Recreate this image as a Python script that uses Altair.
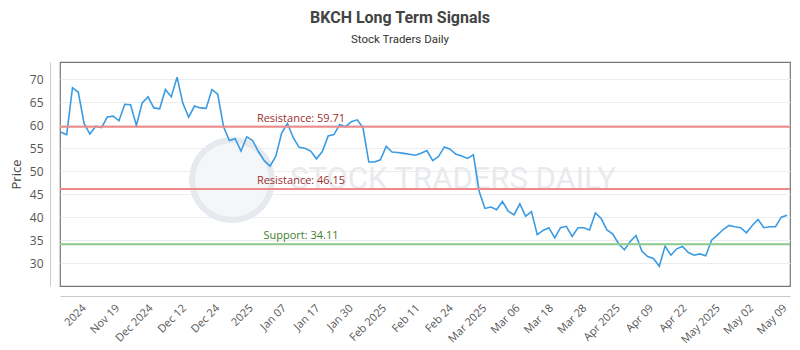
import json
import pandas as pd
import altair as alt

# Daily closing prices (trading days, oldest first)
prices = [
    58.5, 58.0, 68.2, 67.2, 60.4, 58.1, 59.8, 59.5, 61.8, 62.0,
    61.0, 64.6, 64.5, 60.0, 64.9, 66.2, 63.8, 63.6, 67.8, 66.2,
    70.5, 64.8, 61.8, 64.2, 63.8, 63.7, 67.8, 66.8, 59.7, 56.7,
    57.1, 54.4, 57.5, 56.7, 54.3, 52.3, 51.1, 53.3, 58.3, 60.4,
    57.3, 55.2, 55.0, 54.4, 52.7, 54.3, 57.7, 58.0, 60.2, 59.7,
    60.8, 61.2, 59.5, 52.0, 52.0, 52.5, 55.4, 54.2, 54.1, 53.9,
    53.7, 53.5, 53.9, 54.5, 52.3, 53.2, 55.3, 54.8, 53.7, 53.3,
    52.8, 53.6, 45.6, 41.9, 42.2, 41.6, 43.4, 41.3, 40.5, 42.9,
    40.2, 41.2, 36.2, 37.1, 37.7, 35.5, 37.7, 38.0, 35.8, 37.7,
    37.7, 37.2, 40.9, 39.7, 37.2, 36.3, 34.2, 32.9, 34.7, 36.0,
    32.6, 31.4, 31.0, 29.3, 33.7, 31.7, 33.1, 33.6, 32.3, 31.7,
    32.0, 31.6, 35.0, 36.1, 37.3, 38.2, 37.9, 37.7, 36.6, 38.2,
    39.5, 37.7, 37.9, 37.9, 40.0, 40.4,
]

tick_labels = [
    "2024", "Nov 19", "Dec 2024", "Dec 12", "Dec 24", "2025", "Jan 07",
    "Jan 17", "Jan 30", "Feb 2025", "Feb 11", "Feb 24", "Mar 2025",
    "Mar 06", "Mar 18", "Mar 28", "Apr 2025", "Apr 09", "Apr 22",
    "May 2025", "May 02", "May 09",
]

price_ticks = [30, 35, 40, 45, 50, 55, 60, 65, 70]

level_values = [59.71, 46.15, 34.11]
level_names = ["Resistance", "Resistance", "Support"]
level_line_colors = ["#f08a8a", "#f08a8a", "#8cc98c"]
level_text_colors = ["#9b2f2f", "#9b2f2f", "#3f7d2c"]

n = len(prices)
df = pd.DataFrame({"i": list(range(n)), "price": prices})
levels = pd.DataFrame({
    "value": level_values,
    "label": [f"{a}: {v:.2f}" for a, v in zip(level_names, level_values)],
    "line_color": level_line_colors,
    "text_color": level_text_colors,
})

# evenly spaced date labels along the trading-day index
first_tick, tick_step = 3.27, 5.744
tick_values = [round(first_tick + k * tick_step, 3) for k in range(len(tick_labels))]
label_expr = (
    f"{json.dumps(tick_labels)}[round((datum.value - {first_tick}) / {tick_step})]"
)

x_scale = alt.Scale(domain=[-0.15, n - 0.5], nice=False, zero=False)
y_scale = alt.Scale(domain=[25, 73.8], nice=False, zero=False)

x_axis = alt.Axis(
    values=tick_values,
    labelExpr=label_expr,
    labelAngle=-45,
    labelOverlap=False,
    labelFlush=False,
    ticks=False,
    grid=False,
    offset=10,
    domainColor="#c8c8c8",
    labelColor="#555555",
    labelFontSize=11,
    labelFont="Open Sans",
    labelPadding=6,
    title=None,
)
y_axis = alt.Axis(
    values=price_ticks,
    labelOverlap=False,
    labelFlush=False,
    ticks=False,
    offset=10,
    domainColor="#c8c8c8",
    gridColor="#ececec",
    labelColor="#555555",
    labelFontSize=12,
    labelFont="Open Sans",
    labelPadding=7,
    title="Price",
    titleFont="Open Sans",
    titleFontSize=13,
    titleFontWeight="normal",
    titleColor="#444444",
    titlePadding=6,
)

y_price = alt.Y("price:Q", scale=y_scale, axis=y_axis, title="Price")
y_level = alt.Y("value:Q", scale=y_scale, axis=y_axis, title="Price")

# faint brand watermark behind the data
mark_logo = alt.Chart(pd.DataFrame({"k": [0]})).mark_point(
    shape="circle", size=6400, filled=False, stroke="#e6e9ed",
    strokeWidth=6, fill="#f4f6f8", fillOpacity=1,
).encode(x=alt.value(172), y=alt.value(118))
mark_word = alt.Chart(pd.DataFrame({"t": ["STOCK TRADERS DAILY"]})).mark_text(
    font="Roboto", fontSize=31, color="#e8eaed",
    align="center", baseline="middle",
).encode(x=alt.value(393), y=alt.value(118), text="t:N")

line = alt.Chart(df).mark_line(color="#3a9be3", strokeWidth=1.6).encode(
    x=alt.X("i:Q", scale=x_scale, axis=x_axis), y=y_price
)

rules = alt.Chart(levels).mark_rule(strokeWidth=2).encode(
    y=y_level,
    color=alt.Color("line_color:N", scale=None),
)
rule_text = alt.Chart(levels).mark_text(
    font="Open Sans", fontSize=11, align="center", baseline="bottom", dy=-3,
).encode(
    x=alt.value(241),
    y=y_level,
    text="label:N",
    color=alt.Color("text_color:N", scale=None),
)

chart = (
    alt.layer(mark_logo, mark_word, line, rules, rule_text)
    .properties(
        width=730,
        height=224,
        padding={"left": 60, "top": 62, "right": 10, "bottom": 64},
        autosize=alt.AutoSizeParams(type="none"),
        title=alt.TitleParams(
            "BKCH Long Term Signals",
            subtitle="Stock Traders Daily",
            font="Roboto",
            fontSize=16,
            fontWeight="bold",
            color="#444444",
            subtitleFont="Roboto",
            subtitleFontSize=11.5,
            subtitleColor="#333333",
            subtitlePadding=8,
            anchor="middle",
            dx=-25,
            offset=17,
        ),
    )
    .configure_view(stroke="#777777", strokeWidth=1.2)
)

chart.save("out.html", embed_options={"renderer": "svg", "actions": False})
